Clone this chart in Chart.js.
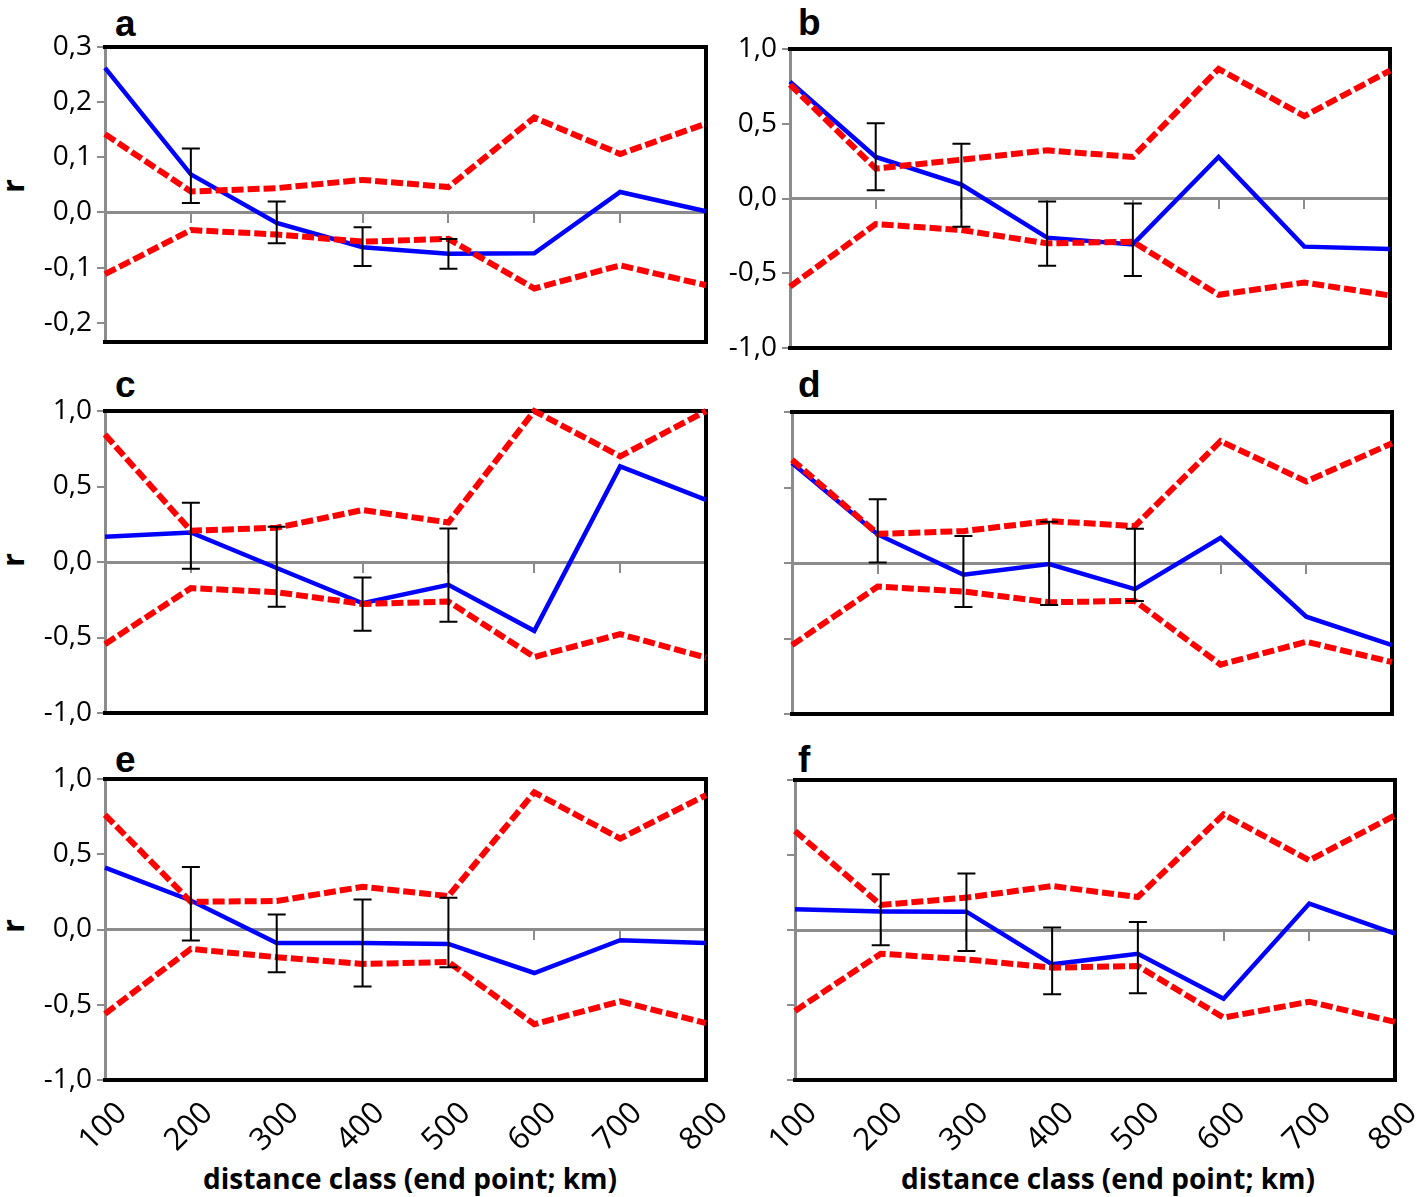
<!DOCTYPE html>
<html>
<head>
<meta charset="utf-8">
<script src="https://cdn.jsdelivr.net/npm/chart.js@4/dist/chart.umd.min.js"></script>
<style>
  html, body { margin: 0; padding: 0; background: #ffffff; }
  body { width: 1418px; height: 1197px; position: relative; overflow: hidden; }
  .pane { position: absolute; }
  .letter { position: absolute; font-family: "Liberation Sans", Arial, sans-serif; font-weight: bold; font-size: 37px; line-height: 1; color: #000; }
  .ylab { position: absolute; font-family: "Open Sans", sans-serif; font-weight: bold; font-size: 30px; line-height: 1; color: #000; transform: translate(-50%, -50%) rotate(-90deg); }
  .xlab { position: absolute; font-family: "Open Sans", sans-serif; font-weight: bold; font-size: 28px; line-height: 1; color: #000; transform: translate(-50%, -50%); white-space: nowrap; }
</style>
</head>
<body>
<div class="letter" style="left:115px; top:5px;">a</div>
<div class="letter" style="left:798px; top:4px;">b</div>
<div class="letter" style="left:115px; top:366px;">c</div>
<div class="letter" style="left:798px; top:366px;">d</div>
<div class="letter" style="left:115px; top:741px;">e</div>
<div class="letter" style="left:798px; top:741px;">f</div>
<div class="ylab" style="left:13px; top:186px;">r</div>
<div class="ylab" style="left:13px; top:560px;">r</div>
<div class="ylab" style="left:13px; top:926px;">r</div>
<div class="xlab" style="left:410px; top:1178px;">distance class (end point; km)</div>
<div class="xlab" style="left:1108px; top:1178px;">distance class (end point; km)</div>

<div class="pane" id="pa"><canvas id="ca"></canvas></div>
<div class="pane" id="pb"><canvas id="cb"></canvas></div>
<div class="pane" id="pc"><canvas id="cc"></canvas></div>
<div class="pane" id="pd"><canvas id="cd"></canvas></div>
<div class="pane" id="pe"><canvas id="ce"></canvas></div>
<div class="pane" id="pf"><canvas id="cf"></canvas></div>

<script>
// ---------- DATA ----------
const distanceClasses = [100, 200, 300, 400, 500, 600, 700, 800];

const yTicksSmall = [-0.2, -0.1, 0.0, 0.1, 0.2, 0.3];
const yTicksFull  = [-1.0, -0.5, 0.0, 0.5, 1.0];

// panel a
const rA     = [0.262, 0.069, -0.019, -0.063, -0.075, -0.074, 0.037, 0.002];
const upperA = [0.142, 0.038, 0.044, 0.059, 0.046, 0.172, 0.106, 0.161];
const lowerA = [-0.112, -0.032, -0.040, -0.053, -0.048, -0.138, -0.096, -0.132];
const errHiA = [null, 0.116, 0.020, -0.027, -0.048, null, null, null];
const errLoA = [null, 0.017, -0.056, -0.097, -0.102, null, null, null];

// panel b
const rB     = [0.782, 0.278, 0.093, -0.262, -0.307, 0.278, -0.322, -0.338];
const upperB = [0.762, 0.200, 0.260, 0.322, 0.278, 0.867, 0.551, 0.856];
const lowerB = [-0.589, -0.171, -0.211, -0.300, -0.289, -0.644, -0.562, -0.649];
const errHiB = [null, 0.504, 0.367, -0.020, -0.033, null, null, null];
const errLoB = [null, 0.056, -0.189, -0.449, -0.518, null, null, null];

// panel c
const rC     = [0.167, 0.196, -0.040, -0.273, -0.151, -0.456, 0.633, 0.411];
const upperC = [0.844, 0.207, 0.227, 0.344, 0.262, 1.000, 0.700, 1.000];
const lowerC = [-0.544, -0.173, -0.200, -0.278, -0.262, -0.629, -0.478, -0.633];
const errHiC = [null, 0.393, 0.233, -0.102, 0.222, null, null, null];
const errLoC = [null, -0.044, -0.296, -0.456, -0.396, null, null, null];

// panel d
const rD     = [0.662, 0.189, -0.078, -0.007, -0.173, 0.167, -0.356, -0.544];
const upperD = [0.684, 0.193, 0.211, 0.278, 0.244, 0.807, 0.540, 0.793];
const lowerD = [-0.544, -0.156, -0.189, -0.260, -0.251, -0.673, -0.522, -0.656];
const errHiD = [null, 0.422, 0.178, 0.273, 0.227, null, null, null];
const errLoD = [null, 0.004, -0.291, -0.278, -0.251, null, null, null];

// panel e
const rE     = [0.411, 0.193, -0.089, -0.089, -0.096, -0.289, -0.071, -0.089];
const upperE = [0.762, 0.184, 0.189, 0.284, 0.222, 0.911, 0.604, 0.893];
const lowerE = [-0.560, -0.129, -0.184, -0.229, -0.216, -0.629, -0.478, -0.622];
const errHiE = [null, 0.416, 0.100, 0.200, 0.211, null, null, null];
const errLoE = [null, -0.073, -0.284, -0.378, -0.251, null, null, null];

// panel f
const rF     = [0.138, 0.124, 0.122, -0.229, -0.158, -0.458, 0.176, -0.024];
const upperF = [0.660, 0.167, 0.216, 0.293, 0.220, 0.771, 0.464, 0.764];
const lowerF = [-0.540, -0.158, -0.196, -0.251, -0.240, -0.584, -0.478, -0.613];
const errHiF = [null, 0.371, 0.376, 0.016, 0.053, null, null, null];
const errLoF = [null, -0.102, -0.140, -0.429, -0.422, null, null, null];

// ---------- LAYOUT / STYLE ----------
const YW = 100, PT = 20, PR = 22, PB = 20;
const GREY = '#8c8c8c';

const framePlugin = {
  id: 'frameAndErrors',
  beforeDatasetsDraw(chart) {
    const { ctx, chartArea: a } = chart;
    ctx.save();
    ctx.strokeStyle = '#000';
    ctx.lineWidth = 4;
    ctx.lineCap = 'square';
    ctx.beginPath();
    ctx.moveTo(a.left, a.top); ctx.lineTo(a.right, a.top);
    ctx.lineTo(a.right, a.bottom); ctx.lineTo(a.left, a.bottom);
    ctx.stroke();
    ctx.restore();
  },
  afterDatasetsDraw(chart, args, opts) {
    const { ctx, scales } = chart;
    const xs = scales.x, ys = scales.y;
    const hi = opts.hi || [], lo = opts.lo || [];
    ctx.save();
    ctx.strokeStyle = '#000';
    ctx.lineWidth = 2;
    for (let i = 0; i < hi.length; i++) {
      if (hi[i] == null || lo[i] == null) continue;
      const px = xs.getPixelForValue(i);
      const y1 = ys.getPixelForValue(hi[i]);
      const y2 = ys.getPixelForValue(lo[i]);
      ctx.beginPath();
      ctx.moveTo(px, y1); ctx.lineTo(px, y2);
      ctx.moveTo(px - 9, y1); ctx.lineTo(px + 9, y1);
      ctx.moveTo(px - 9, y2); ctx.lineTo(px + 9, y2);
      ctx.stroke();
    }
    ctx.restore();
  }
};

function fmt(v) {
  return v.toFixed(1).replace('.', ',');
}

function makePanel(p) {
  const XH = p.showX ? 80 : 0;
  const PBp = p.showX ? 5 : PB;
  const w = (p.box.right - p.box.left) + YW + PR;
  const h = (p.box.bottom - p.box.top) + PT + XH + PBp;
  const div = document.getElementById(p.div);
  div.style.left = (p.box.left - YW) + 'px';
  div.style.top = (p.box.top - PT) + 'px';
  div.style.width = w + 'px';
  div.style.height = h + 'px';
  const cv = document.getElementById(p.canvas);
  cv.width = w; cv.height = h;
  cv.style.width = w + 'px'; cv.style.height = h + 'px';

  const tickFont = { family: 'Open Sans', size: 28 };
  const xTickFont = { family: 'Open Sans', size: 31 };
  const redLine = { borderColor: '#ff0000', borderWidth: 6, borderDash: [12, 4], pointRadius: 0, clip: false, tension: 0, xAxisID: 'x', yAxisID: 'y' };
  new Chart(cv, {
    type: 'line',
    data: {
      labels: distanceClasses.map(String),
      datasets: [
        Object.assign({ label: 'upper', data: p.upper }, redLine),
        Object.assign({ label: 'lower', data: p.lower }, redLine),
        { label: 'r', data: p.r, borderColor: '#0000ff', borderWidth: 4.5, pointRadius: 0, clip: false, tension: 0, xAxisID: 'x', yAxisID: 'y' }
      ]
    },
    options: {
      responsive: false,
      animation: false,
      devicePixelRatio: 1,
      layout: { padding: { top: PT, right: PR, bottom: PBp, left: 0 } },
      plugins: {
        legend: { display: false },
        tooltip: { enabled: false },
        frameAndErrors: { hi: p.errHi, lo: p.errLo }
      },
      scales: {
        x: {
          type: 'category',
          position: 'bottom',
          offset: false,
          grid: { display: false, drawTicks: false },
          border: { display: false },
          ticks: {
            display: p.showX,
            autoSkip: false,
            minRotation: 45, maxRotation: 45,
            font: xTickFont, color: '#000',
            padding: 15,
            labelOffset: 17
          },
          afterFit: s => { s.height = XH; s.paddingLeft = 0; s.paddingRight = 0; }
        },
        x0: {
          type: 'category',
          axis: 'x',
          position: { y: 0 },
          offset: false,
          grid: { drawOnChartArea: false, drawTicks: true, tickLength: 9, color: GREY, lineWidth: 2 },
          border: { color: GREY, width: 3 },
          ticks: { display: false }
        },
        y: {
          type: 'linear',
          position: 'left',
          min: p.min, max: p.max,
          afterBuildTicks: s => { s.ticks = p.yTicks.map(v => ({ value: v })); },
          ticks: {
            callback: v => p.showY ? fmt(v) : '',
            font: tickFont, color: '#000', padding: 5
          },
          grid: { drawOnChartArea: false, tickLength: 8, color: GREY, lineWidth: 2 },
          border: { color: GREY, width: 3 },
          afterFit: s => { s.width = YW; s.paddingTop = 0; s.paddingBottom = 0; }
        }
      }
    },
    plugins: [framePlugin]
  });
}

makePanel({ div: 'pa', canvas: 'ca', box: { left: 105, top: 47, right: 706, bottom: 342 }, min: -0.235, max: 0.3, yTicks: yTicksSmall, showY: true, showX: false, r: rA, upper: upperA, lower: lowerA, errHi: errHiA, errLo: errLoA });
makePanel({ div: 'pb', canvas: 'cb', box: { left: 790, top: 49, right: 1390, bottom: 348 }, min: -1, max: 1, yTicks: yTicksFull, showY: true, showX: false, r: rB, upper: upperB, lower: lowerB, errHi: errHiB, errLo: errLoB });
makePanel({ div: 'pc', canvas: 'cc', box: { left: 105, top: 411, right: 706, bottom: 713 }, min: -1, max: 1, yTicks: yTicksFull, showY: true, showX: false, r: rC, upper: upperC, lower: lowerC, errHi: errHiC, errLo: errLoC });
makePanel({ div: 'pd', canvas: 'cd', box: { left: 792, top: 412, right: 1392, bottom: 714 }, min: -1, max: 1, yTicks: yTicksFull, showY: false, showX: false, r: rD, upper: upperD, lower: lowerD, errHi: errHiD, errLo: errLoD });
makePanel({ div: 'pe', canvas: 'ce', box: { left: 105, top: 779, right: 706, bottom: 1080 }, min: -1, max: 1, yTicks: yTicksFull, showY: true, showX: true, r: rE, upper: upperE, lower: lowerE, errHi: errHiE, errLo: errLoE });
makePanel({ div: 'pf', canvas: 'cf', box: { left: 795, top: 780, right: 1395, bottom: 1080 }, min: -1, max: 1, yTicks: yTicksFull, showY: false, showX: true, r: rF, upper: upperF, lower: lowerF, errHi: errHiF, errLo: errLoF });
</script>
</body>
</html>
